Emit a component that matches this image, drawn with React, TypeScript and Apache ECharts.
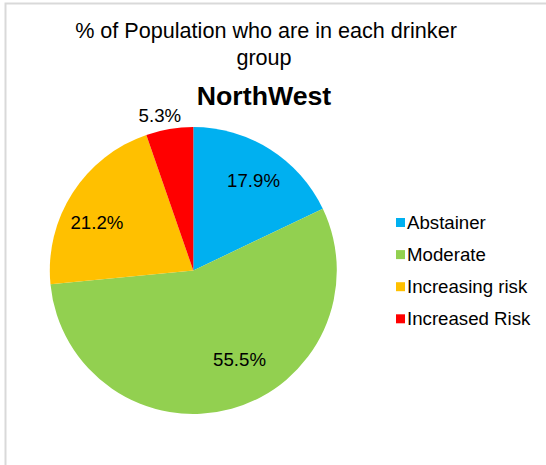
import React, { useEffect, useRef } from "react";
import * as echarts from "echarts";

const categories = ["Abstainer", "Moderate", "Increasing risk", "Increased Risk"];
const values = [17.9, 55.5, 21.2, 5.3];
const colors = ["#00B0F0", "#92D050", "#FFC000", "#FF0000"];
const titleLines = ["% of Population who are in each drinker", "group"];
const subTitle = "NorthWest";

// label placement styling (radius factor, angle shift in degrees relative to slice mid)
const labelRadiusFactor = [0.752, 0.70, 0.749, 1.108];
const labelAngleShift = [1.7, -11.9, -6.4, -2.6];

const FONT = "'Liberation Sans', Arial, sans-serif";
const CX = 193.3;
const CY = 270.5;
const R = 143.5;

export default function App() {
  const ref = useRef<HTMLDivElement>(null);
  useEffect(() => {
    if (!ref.current) return;
    const chart = echarts.init(ref.current, undefined, { renderer: "svg" });
    const total = values.reduce((a, b) => a + b, 0);
    const mids: number[] = [];
    let acc = 0;
    values.forEach((v) => {
      mids.push(((acc + v / 2) / total) * 360);
      acc += v;
    });
    chart.setOption({
      animation: false,
      backgroundColor: "#ffffff",
      graphic: [
        {
          type: "rect",
          shape: { x: 5.5, y: 3.5, width: 700, height: 700 },
          style: { fill: "none", stroke: "#d9d9d9", lineWidth: 2 },
          silent: true,
        },
        {
          type: "text",
          x: 266,
          y: 30.5,
          style: {
            text: titleLines[0],
            fontSize: 21.6,
            fontFamily: FONT,
            fill: "#000",
            align: "center",
            verticalAlign: "middle",
          },
        },
        {
          type: "text",
          x: 264,
          y: 57,
          style: {
            text: titleLines[1],
            fontSize: 21.6,
            fontFamily: FONT,
            fill: "#000",
            align: "center",
            verticalAlign: "middle",
          },
        },
        {
          type: "text",
          x: 264,
          y: 96,
          style: {
            text: subTitle,
            fontSize: 26.7,
            fontWeight: "bold",
            fontFamily: FONT,
            fill: "#000",
            align: "center",
            verticalAlign: "middle",
          },
        },
      ],
      legend: {
        orient: "vertical",
        left: 396,
        top: 212.5,
        padding: 0,
        itemWidth: 9,
        itemHeight: 9,
        itemGap: 12.1,
        icon: "rect",
        data: categories,
        textStyle: {
          fontSize: 18.67,
          lineHeight: 20,
          fontFamily: FONT,
          color: "#000",
          padding: [0, 0, 0, -3],
        },
      },
      series: [
        {
          type: "pie",
          center: [CX, CY],
          radius: R,
          startAngle: 90,
          clockwise: true,
          data: categories.map((name, i) => ({
            name,
            value: values[i],
            itemStyle: { color: colors[i] },
          })),
          label: {
            show: true,
            position: "inside",
            formatter: (p: any) => p.value.toFixed(1) + "%",
            fontSize: 18.67,
            fontFamily: FONT,
            color: "#000",
          },
          labelLine: { show: false },
          emphasis: { disabled: true },
          labelLayout: (params: any) => {
            const i = params.dataIndex;
            const ang = ((mids[i] + labelAngleShift[i]) * Math.PI) / 180;
            const r = R * labelRadiusFactor[i];
            return {
              x: CX + r * Math.sin(ang),
              y: CY - r * Math.cos(ang),
              align: "center",
              verticalAlign: "middle",
            };
          },
        },
      ],
    });
    return () => chart.dispose();
  }, []);
  return (
    <div
      ref={ref}
      style={{ position: "absolute", left: 0, top: 0, width: 546, height: 465 }}
    />
  );
}
